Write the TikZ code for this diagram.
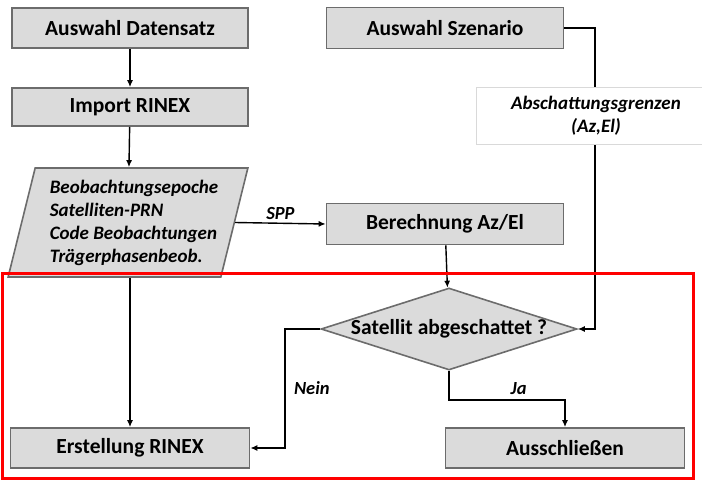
\documentclass[tikz,border=0pt]{standalone}
\usepackage{fontspec}
\setmainfont{Carlito}
\usetikzlibrary{shapes.geometric,arrows.meta}

\tikzset{
  box/.style={rectangle,draw=gray!85!black,line width=1.6pt,fill=gray!28,
    font=\fontsize{21.5}{24}\selectfont\bfseries,inner sep=0pt},
  arrow/.style={-{Latex[length=7pt,width=6pt]},line width=1.4pt},
  lab/.style={font=\fontsize{18.5}{21}\selectfont\bfseries\itshape},
  epochtext/.style={align=left,font=\fontsize{19}{23}\selectfont\bfseries\itshape}
}

\begin{document}
\begin{tikzpicture}[x=1pt,y=-1pt]

      \clip (0,0) rectangle (702,483);
      \useasboundingbox (0,0) rectangle (702,483);

      \begin{scope}[every node/.style={box}]
        \node[minimum width=236,minimum height=40] (1) at (130,28)  {Auswahl Datensatz};
        \node[minimum width=236,minimum height=38] (2) at (130,107) {Import RINEX};
        \node[trapezium,trapezium left angle=74,trapezium right angle=106,
              trapezium stretches=true,minimum width=240,minimum height=109,
              epochtext] (3) at (128,222.5)
              {\phantom{Beobachtungsepoche}\\\phantom{Satelliten-PRN}\\
               \phantom{Code Beobachtungen}\\\phantom{Trägerphasenbeob.}};
        \node[minimum width=237,minimum height=41] (4) at (445,28)  {Auswahl Szenario};
        \node[minimum width=237,minimum height=41] (6) at (445,224) {Berechnung Az/El};
        \node[diamond,minimum width=256,minimum height=82,
              label={center:Satellit abgeschattet ?}] (7) at (449,329) {};
        \node[minimum width=239,minimum height=40] (8) at (130,448) {Erstellung RINEX};
        \node[minimum width=239,minimum height=40] (9) at (565,448) {Ausschließen};
      \end{scope}

      % Text im Parallelogramm
      \node[epochtext] (3t) at ([xshift=6pt]3.center)
            {Beobachtungsepoche\\Satelliten-PRN\\Code Beobachtungen\\Trägerphasenbeob.};

      \coordinate (k) at (595,329);
      \coordinate (n) at (285,329);

      \draw[arrow] (1) -- (2);
      \draw[arrow] (2) -- (3);
      \draw[arrow] (3.east) -- node[lab,above] {SPP} (6.west);
      \draw[arrow] (4.east) -| (k) -- (7.east);
      \draw[arrow] (6) -- (7);
      \draw[arrow] (8.north |- 3.south) -- (8.north);
      \draw[arrow] (7.west) -- (n) |- node[lab,pos=0.25,right=5pt] {Nein} (8.east);
      \draw[arrow] (7.south) -- ++(0,29) -| node[lab,pos=0.3,above=1pt] {Ja} (9.north);

      % Grenzen ueber der Linie
      \node[rectangle,draw=gray!30,line width=0.8pt,fill=white,
            minimum width=240,minimum height=57,align=center,
            font=\fontsize{19}{23}\selectfont\bfseries\itshape]
            (5) at (596,116) {Abschattungsgrenzen\\(Az,El)};

      \draw[red,line width=3pt] (2.5,273.5) rectangle (693,478);

    \end{tikzpicture}
\end{document}
